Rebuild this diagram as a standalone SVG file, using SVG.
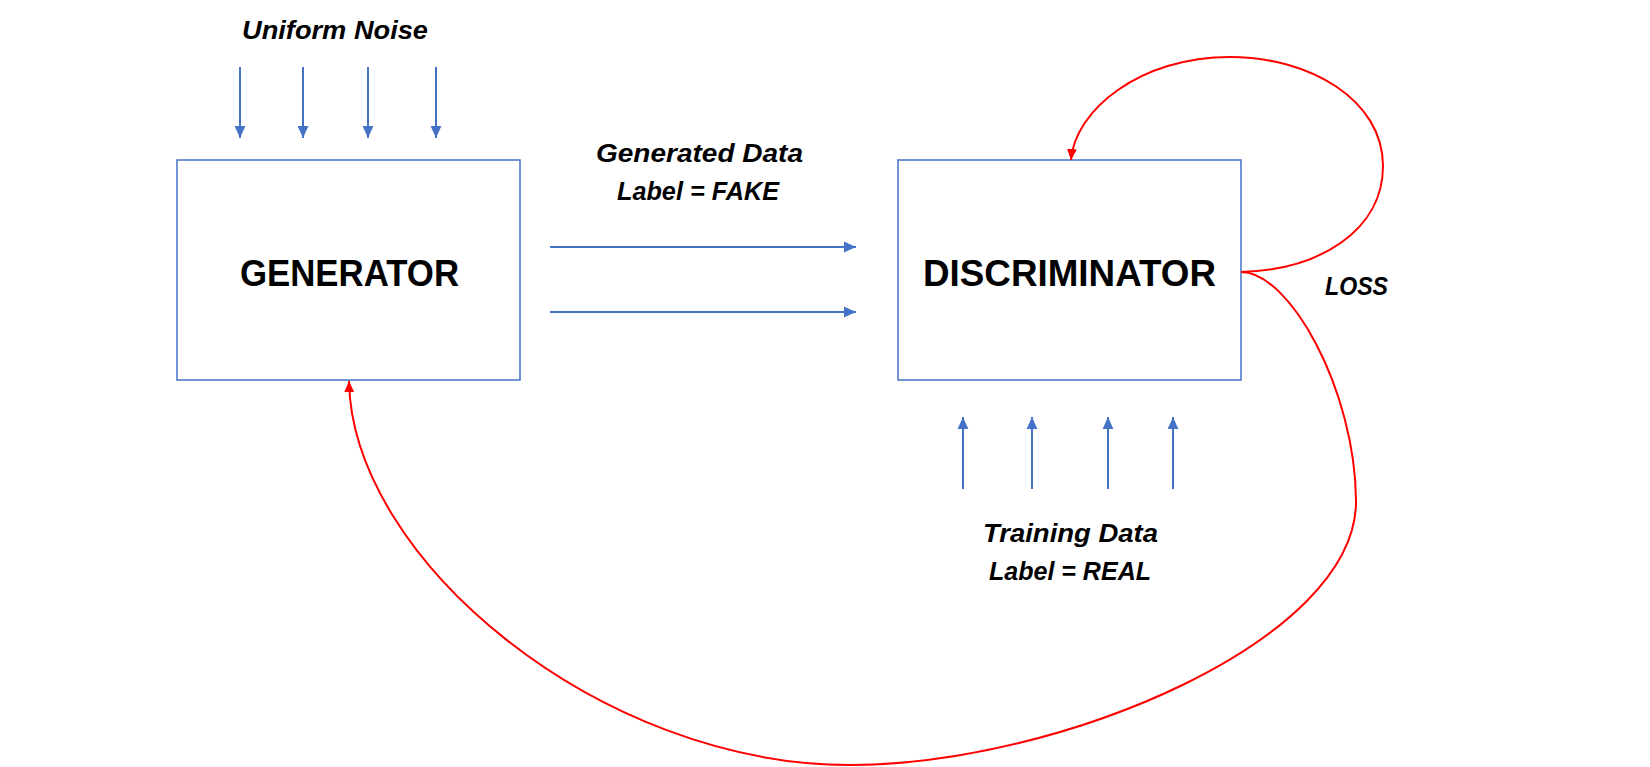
<svg xmlns="http://www.w3.org/2000/svg" width="1650" height="767" viewBox="0 0 1650 767">
<style>
.box{fill:#fff;stroke:#4472C4;stroke-width:1.5}
.title{font-family:"Liberation Sans",Arial,sans-serif;font-weight:bold;font-size:37px;fill:#000}
.lbl{font-family:"Liberation Sans",Arial,sans-serif;font-weight:bold;font-style:italic;font-size:26px;fill:#000}
.blue{stroke:#4472C4;stroke-width:2;fill:none;marker-end:url(#ab)}
.red{stroke:#FF0000;stroke-width:2;fill:none}
</style>
<defs>
<marker id="ab" markerUnits="userSpaceOnUse" markerWidth="12" markerHeight="12" viewBox="0 0 10 10" refX="10" refY="5" orient="auto">
<path d="M0,0.5 L10,5 L0,9.5 Z" fill="#4472C4"/>
</marker>
<marker id="ar" markerUnits="userSpaceOnUse" markerWidth="11" markerHeight="11" viewBox="0 0 10 10" refX="10" refY="5" orient="auto">
<path d="M0,0.5 L10,5 L0,9.5 Z" fill="#FF0000"/>
</marker>
</defs>
<rect width="1650" height="767" fill="#fff"/>
<g id="generator">
<rect class="box" x="177" y="160" width="343" height="220"/>
<text class="title" x="240" y="286" textLength="219" lengthAdjust="spacingAndGlyphs">GENERATOR</text>
</g>
<g id="discriminator">
<rect class="box" x="898" y="160" width="343" height="220"/>
<text class="title" x="923" y="286" textLength="293" lengthAdjust="spacingAndGlyphs">DISCRIMINATOR</text>
</g>
<g id="labels">
<text class="lbl" x="242" y="39" textLength="186" lengthAdjust="spacingAndGlyphs">Uniform Noise</text>
<text class="lbl" x="596" y="162" textLength="207" lengthAdjust="spacingAndGlyphs">Generated Data</text>
<text class="lbl" x="617" y="200" textLength="162" lengthAdjust="spacingAndGlyphs">Label = FAKE</text>
<text class="lbl" x="983" y="542" textLength="175" lengthAdjust="spacingAndGlyphs">Training Data</text>
<text class="lbl" x="989" y="580" textLength="162" lengthAdjust="spacingAndGlyphs">Label = REAL</text>
<text class="lbl" x="1325" y="295" textLength="63" lengthAdjust="spacingAndGlyphs">LOSS</text>
</g>
<g id="connectors">
<line class="blue" x1="240" y1="67" x2="240" y2="138"/>
<line class="blue" x1="303" y1="67" x2="303" y2="138"/>
<line class="blue" x1="368" y1="67" x2="368" y2="138"/>
<line class="blue" x1="436" y1="67" x2="436" y2="138"/>
<line class="blue" x1="550" y1="247" x2="856" y2="247"/>
<line class="blue" x1="550" y1="312" x2="856" y2="312"/>
<line class="blue" x1="963" y1="489" x2="963" y2="417"/>
<line class="blue" x1="1032" y1="489" x2="1032" y2="417"/>
<line class="blue" x1="1108" y1="489" x2="1108" y2="417"/>
<line class="blue" x1="1173" y1="489" x2="1173" y2="417"/>
<path class="red" marker-end="url(#ar)" d="M1241,272 C1320,270 1383,230 1383,166 C1383,100 1310,57 1230,57 C1140,57 1075,110 1071,160"/>
<path class="red" marker-end="url(#ar)" d="M1241,272 C1290,272 1355,390 1356,500 C1358,640 1060,765 850,765 C600,765 352,560 349,381"/>
</g>
</svg>
